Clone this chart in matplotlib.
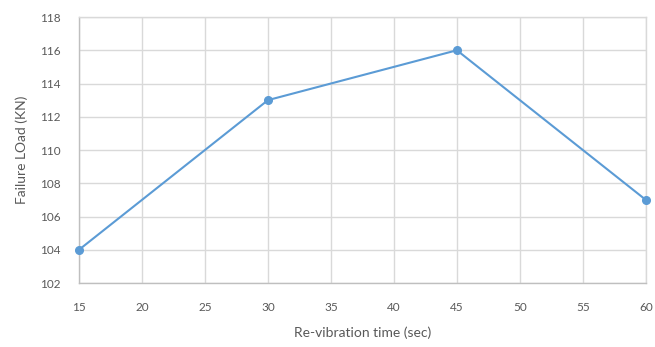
import matplotlib
matplotlib.use("Agg")
import matplotlib.pyplot as plt

# Failure load versus re-vibration time
times = [15, 30, 45, 60]
loads = [104, 113, 116, 107]
x_ticks = [15, 20, 25, 30, 35, 40, 45, 50, 55, 60]
y_ticks = [102, 104, 106, 108, 110, 112, 114, 116, 118]

plt.rcParams['font.family'] = ['Lato', 'DejaVu Sans']

fig = plt.figure(figsize=(6.55, 3.47), dpi=100)
ax = fig.add_axes([0.1206, 0.1844, 0.8654, 0.7666])

line_color = '#5b9bd5'
grid_color = '#d9d9d9'
text_color = '#595959'

ax.plot(times, loads, color=line_color, linewidth=1.5, marker='o',
        markersize=5.5, zorder=3, clip_on=False)

ax.set_xlim(15, 60)
ax.set_ylim(102, 118)
ax.set_xticks(x_ticks)
ax.set_yticks(y_ticks)
ax.grid(True, color=grid_color, linewidth=1.0)
ax.set_axisbelow(True)
for side in ax.spines.values():
    side.set_color(grid_color)
    side.set_linewidth(1.0)
ax.spines['bottom'].set_color('#bfbfbf')
ax.spines['left'].set_color('#bfbfbf')

ax.tick_params(axis='both', length=0, colors=text_color, labelsize=8.5)
ax.tick_params(axis='x', pad=14)
ax.tick_params(axis='y', pad=13)

ax.set_xlabel('Re-vibration time (sec)', color=text_color, fontsize=10, labelpad=9)
ax.set_ylabel('Failure LOad (KN)', color=text_color, fontsize=10, labelpad=9)

fig.savefig('out.png', dpi=100)
